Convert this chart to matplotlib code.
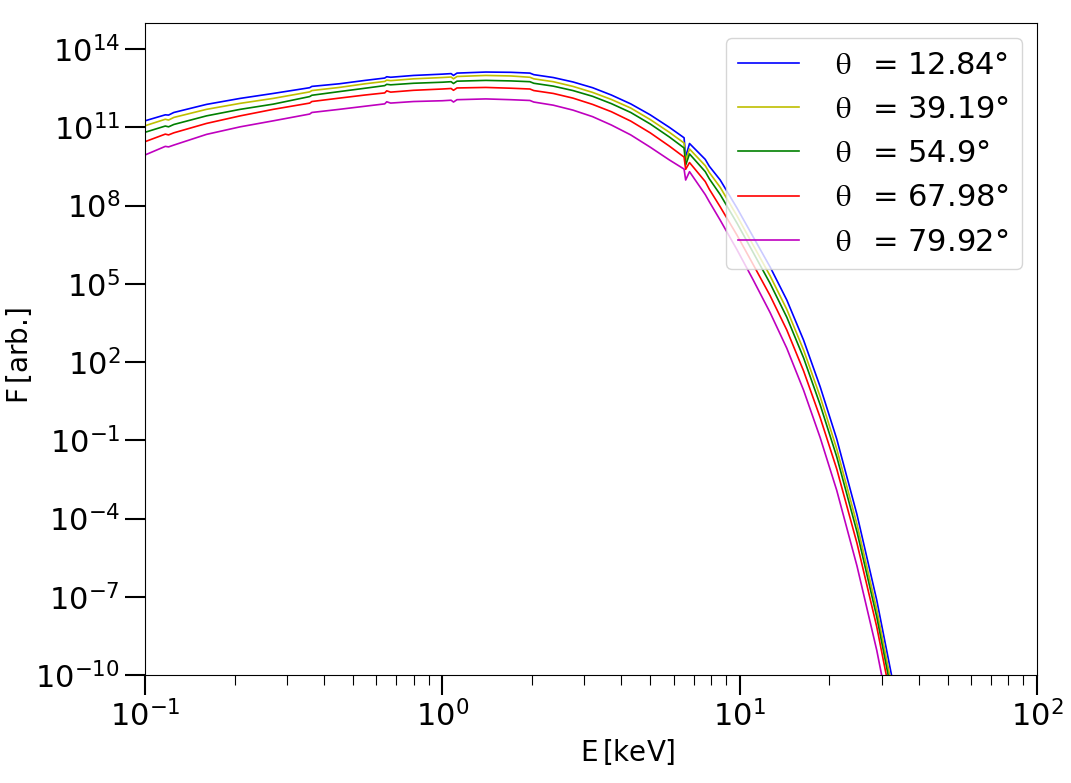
import numpy as np
import matplotlib
matplotlib.use('Agg')
import matplotlib.pyplot as plt
from matplotlib.ticker import NullLocator

# photon energy grid [keV]
energy = [0.1, 0.117, 0.12, 0.125, 0.161, 0.209, 0.27, 0.358, 0.364, 0.45,
          0.55, 0.64, 0.65, 0.67, 0.8, 1.0, 1.07, 1.09, 1.12, 1.4, 1.7,
          1.97, 2.03, 2.36, 2.75, 3.2, 3.7, 4.3, 5.0, 5.8, 6.5,
          6.58, 6.78, 7.66, 7.9, 8.6, 9.8, 11.1, 12.65, 14.4, 16.4,
          18.65, 21.2, 24.8, 28.9, 32.4, 34.0]

# log10 of flux for each viewing angle
logf_1284 = [11.25, 11.48, 11.47, 11.57, 11.88, 12.11, 12.30, 12.52, 12.57, 12.67,
             12.80, 12.89, 12.94, 12.92, 12.99, 13.04, 13.06, 12.99, 13.08, 13.12, 13.11,
             13.08, 13.02, 12.91, 12.74, 12.52, 12.24, 11.90, 11.48, 11.00, 10.60,
             9.87, 10.38, 9.77, 9.51, 8.98, 7.90, 6.80, 5.65, 4.38, 2.84,
             1.05, -0.95, -3.85, -7.13, -10.0, -11.3]
logf_3919 = [11.06, 11.31, 11.28, 11.38, 11.69, 11.92, 12.11, 12.36, 12.41, 12.53,
             12.67, 12.76, 12.81, 12.79, 12.86, 12.91, 12.93, 12.86, 12.95, 12.99, 12.97,
             12.92, 12.86, 12.75, 12.57, 12.34, 12.07, 11.74, 11.30, 10.81, 10.40,
             9.72, 10.17, 9.53, 9.27, 8.70, 7.60, 6.48, 5.31, 4.02, 2.46,
             0.67, -1.33, -4.22, -7.49, -10.36, -11.67]
logf_5490 = [10.81, 11.05, 11.02, 11.11, 11.44, 11.69, 11.89, 12.18, 12.23, 12.37,
             12.50, 12.60, 12.65, 12.63, 12.69, 12.73, 12.75, 12.68, 12.77, 12.80, 12.78,
             12.75, 12.69, 12.58, 12.41, 12.19, 11.91, 11.57, 11.13, 10.63, 10.21,
             9.55, 9.98, 9.30, 9.03, 8.42, 7.32, 6.20, 5.02, 3.72, 2.16,
             0.36, -1.63, -4.51, -7.77, -10.66, -11.97]
logf_6798 = [10.45, 10.74, 10.71, 10.79, 11.15, 11.44, 11.69, 11.93, 11.99, 12.12,
             12.24, 12.32, 12.40, 12.35, 12.42, 12.47, 12.49, 12.42, 12.51, 12.53, 12.50,
             12.47, 12.41, 12.30, 12.12, 11.88, 11.60, 11.24, 10.79, 10.28, 9.86,
             9.39, 9.65, 8.92, 8.63, 7.95, 6.86, 5.74, 4.55, 3.23, 1.66,
             -0.13, -2.10, -4.95, -8.15, -11.02, -12.35]
logf_7992 = [9.94, 10.27, 10.25, 10.32, 10.73, 11.02, 11.25, 11.51, 11.57, 11.69,
             11.81, 11.90, 11.98, 11.93, 11.99, 12.02, 12.04, 11.97, 12.06, 12.09, 12.06,
             12.03, 11.97, 11.85, 11.66, 11.41, 11.09, 10.71, 10.24, 9.75, 9.40,
             8.98, 9.30, 8.42, 8.15, 7.44, 6.30, 5.15, 3.90, 2.53, 0.92,
             -0.90, -2.92, -5.82, -9.05, -11.92, -13.25]

angles = ['12.84', '39.19', '54.9', '67.98', '79.92']
colors = ['b', 'y', 'g', 'r', 'm']
series = [logf_1284, logf_3919, logf_5490, logf_6798, logf_7992]

fs = 22
plt.rcParams['font.size'] = fs

fig = plt.figure(figsize=(10.71, 7.83), dpi=100)
ax = fig.add_axes([0.1354, 0.1379, 0.8329, 0.8327])

E = np.array(energy)
for ang, col, lf in zip(angles, colors, series):
    ax.plot(E, 10 ** np.array(lf), color=col, lw=1.2,
            label=r' $\hspace{0.13}\mathrm{\theta}\hspace{0.1}$  = ' + ang + '°')

ax.set_xscale('log')
ax.set_yscale('log')
ax.set_xlim(0.1, 100)
ax.set_ylim(1e-10, 1e15)
ax.set_yticks([10.0 ** k for k in range(-10, 15, 3)])
ax.yaxis.set_minor_locator(NullLocator())

ax.tick_params(which='major', length=14.4, width=1.5, labelsize=fs)
ax.tick_params(which='minor', length=7.2, width=0.8)

ax.set_xlabel(r'E$\,$[keV]', fontsize=20)
ax.set_ylabel(r'F$\,$[arb.]', fontsize=20)
ax.xaxis.set_label_coords(0.5415, -0.095)
ax.yaxis.set_label_coords(-0.125, 0.49)

leg = ax.legend(loc='upper right', fontsize=fs)
# thin upright theta as in the original
for t in leg.get_texts():
    t.set_math_fontfamily('stix')

fig.savefig('out.png', dpi=100)
